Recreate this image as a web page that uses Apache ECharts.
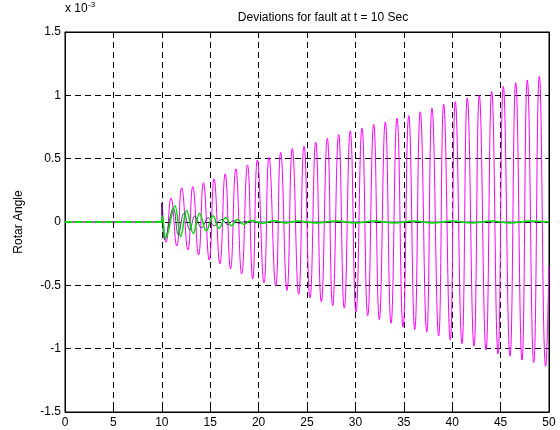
<!DOCTYPE html>
<html>
<head>
<meta charset="utf-8">
<script src="https://cdn.jsdelivr.net/npm/echarts@6/dist/echarts.min.js"></script>
<style>
html,body{margin:0;padding:0;background:#fff;}
#c{width:560px;height:430px;}
</style>
</head>
<body>
<div id="c"></div>
<script>
// x ticks (time, s)
var xTicks = [0, 5, 10, 15, 20, 25, 30, 35, 40, 45, 50];
// y ticks (x 10^-3)
var yTicks = [-1.5, -1, -0.5, 0, 0.5, 1, 1.5];

// Magenta trace: extremes (time s, value x1e-3)
var magT = [0, 10, 10.02, 10.45, 10.95, 11.55, 12.05, 12.7, 13.2, 13.8, 14.3, 14.9, 15.4, 16.0, 16.55, 17.1, 17.65, 18.25, 18.85,
  19.39, 19.87, 20.56, 21.07, 21.77, 22.28, 22.93, 23.48, 24.14, 24.69, 25.31, 25.9, 26.48, 27.1, 27.65, 28.27, 28.85, 29.47,
  30.06, 30.68, 31.27, 31.89, 32.47, 33.09, 33.68, 34.3, 34.92, 35.51, 36.13, 36.7, 37.37, 37.91, 38.6, 39.12, 39.8, 40.32,
  41.01, 41.56, 42.25, 42.8, 43.49, 44.08, 44.73, 45.28, 45.97, 46.56, 47.21, 47.76, 48.42, 49.0, 49.66, 50];
var magV = [0, 0, 0.15, -0.16, 0.19, -0.19, 0.27, -0.22, 0.28, -0.26, 0.31, -0.30, 0.34, -0.33, 0.38, -0.37, 0.42, -0.41, 0.45,
  -0.45, 0.49, -0.48, 0.51, -0.505, 0.55, -0.54, 0.58, -0.57, 0.60, -0.60, 0.63, -0.63, 0.66, -0.66, 0.69, -0.68, 0.72,
  -0.71, 0.74, -0.74, 0.77, -0.77, 0.79, -0.80, 0.82, -0.83, 0.84, -0.85, 0.87, -0.87, 0.90, -0.90, 0.93, -0.93, 0.95,
  -0.96, 0.98, -0.98, 1.00, -1.01, 1.03, -1.04, 1.07, -1.06, 1.10, -1.09, 1.12, -1.11, 1.15, -1.14, -0.35];

// Dark (black/navy) trace
var blkT = [0, 10, 10.02, 10.3, 11.2, 11.7, 12.3, 12.9, 13.4, 14.1, 14.8, 15.4, 16.2, 16.8, 17.4, 18.0, 18.6, 19.2, 50];
var blkV = [0, 0, 0.15, -0.14, 0.11, -0.10, 0.07, -0.063, 0.047, -0.045, 0.034, -0.03, 0.02, -0.02, 0.01, -0.01, 0.005, 0, 0];

// Green trace (dashed before fault, solid after)
var grnPreT = [0, 10];
var grnPreV = [0, 0];
var grnT = [10, 10.05, 10.4, 11.36, 11.95, 12.57, 13.25, 13.9, 14.6, 15.3, 15.9, 16.6, 17.2, 17.8, 18.5, 19.2, 20.4, 21.6, 22.8,
  24.0, 26.0, 28.0, 30.0, 32.0, 34.0, 36.0, 38.0, 40.0, 42.0, 44.0, 46.0, 48.0, 50];
var grnV = [0, 0.05, -0.13, 0.126, -0.116, 0.09, -0.09, 0.07, -0.07, 0.05, -0.05, 0.035, -0.03, 0.02, -0.02, 0.012, -0.01, 0.01, -0.008,
  0.008, -0.008, 0.008, -0.008, 0.008, -0.008, 0.008, -0.008, 0.008, -0.008, 0.008, -0.008, 0.008, 0];

function pairs(t, v) { var o = []; for (var i = 0; i < t.length; i++) o.push([t[i], v[i]]); return o; }

var chart = echarts.init(document.getElementById('c'), null, {renderer: 'canvas'});
var font = 'Liberation Sans, Arial, sans-serif';
var gridDash = {color: '#000', width: 1, type: [6, 4]};

chart.setOption({
  animation: false,
  backgroundColor: '#fff',
  grid: {left: 65, right: 11, top: 32, bottom: 18, show: true, borderColor: '#000', borderWidth: 1, backgroundColor: '#fff'},
  title: {
    text: 'Deviations for fault at t = 10 Sec',
    left: 318, top: 7, textAlign: 'center',
    textStyle: {fontFamily: font, fontSize: 12, fontWeight: 'normal', color: '#000'}
  },
  xAxis: [{
    type: 'value', min: xTicks[0], max: xTicks[xTicks.length - 1], interval: 5,
    axisLine: {show: true, onZero: false, lineStyle: {color: '#000', width: 1}},
    axisTick: {show: true, inside: true, length: 4, lineStyle: {color: '#000'}},
    axisLabel: {color: '#000', fontFamily: font, fontSize: 12, margin: 5},
    splitLine: {show: true, lineStyle: gridDash}
  }, {
    type: 'value', position: 'top', min: 0, max: 50, interval: 5,
    axisLine: {show: true, onZero: false, lineStyle: {color: '#000'}},
    axisTick: {show: true, inside: true, length: 4, lineStyle: {color: '#000'}},
    axisLabel: {show: false}, splitLine: {show: false}
  }],
  yAxis: [{
    type: 'value', min: yTicks[0], max: yTicks[yTicks.length - 1], interval: 0.5,
    name: 'Rotar Angle', nameLocation: 'middle', nameGap: 40, nameRotate: 90,
    nameTextStyle: {fontFamily: font, fontSize: 12, color: '#000'},
    axisLine: {show: true, onZero: false, lineStyle: {color: '#000', width: 1}},
    axisTick: {show: true, inside: true, length: 4, lineStyle: {color: '#000'}},
    axisLabel: {color: '#000', fontFamily: font, fontSize: 12, margin: 4},
    splitLine: {show: true, lineStyle: gridDash}
  }, {
    type: 'value', position: 'right', min: -1.5, max: 1.5, interval: 0.5,
    axisLine: {show: true, onZero: false, lineStyle: {color: '#000'}},
    axisTick: {show: true, inside: true, length: 4, lineStyle: {color: '#000'}},
    axisLabel: {show: false}, splitLine: {show: false}
  }],
  graphic: [
    {type: 'text', left: 65, top: 3, style: {text: 'x 10', font: '12px Liberation Sans, Arial, sans-serif', fill: '#000'}},
    {type: 'text', left: 88, top: 1, style: {text: '-3', font: '8px Liberation Sans, Arial, sans-serif', fill: '#000'}}
  ],
  series: [
    {type: 'line', data: pairs(magT, magV), showSymbol: false, symbol: 'none', smooth: 0.5, lineStyle: {color: '#ff00ff', width: 1}, z: 2},
    {type: 'line', data: pairs(blkT, blkV), showSymbol: false, symbol: 'none', smooth: 0.4, lineStyle: {color: '#10104a', width: 1, opacity: 0.75}, z: 3},
    {type: 'line', data: pairs(grnPreT, grnPreV), showSymbol: false, symbol: 'none', lineStyle: {color: '#00dd00', width: 2, type: [7, 3]}, z: 4},
    {type: 'line', data: pairs(grnT, grnV), showSymbol: false, symbol: 'none', smooth: 0.4, lineStyle: {color: '#00dd00', width: 1.5}, z: 4}
  ]
});
</script>
</body>
</html>
